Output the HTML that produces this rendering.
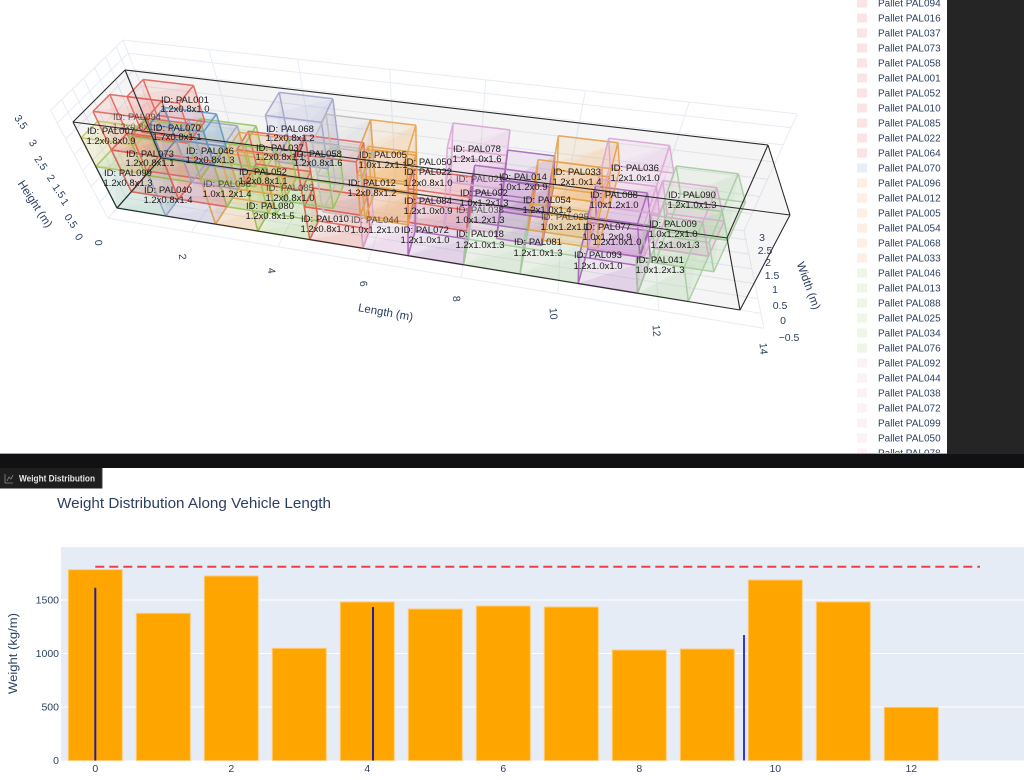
<!DOCTYPE html>
<html><head><meta charset="utf-8">
<style>
html,body{margin:0;padding:0;background:#fff;}
body{width:1024px;height:780px;overflow:hidden;position:relative;font-family:"Liberation Sans",Arial,sans-serif;}
svg{position:absolute;left:0;top:0;}
</style></head><body>
<svg width="1024" height="780" viewBox="0 0 1024 780" xmlns="http://www.w3.org/2000/svg" font-family="Liberation Sans, Arial, sans-serif">
<rect width="1024" height="780" fill="#fff"/>
<g id="grid" stroke="#e7ecf4" stroke-width="1" fill="none"></g>
<g id="cfill"></g>
<g id="fills"></g>
<g id="edges" fill="none" stroke-width="1.5"></g>
<g id="cont" fill="none" stroke="#2b2b2b" stroke-width="1.1"></g>

<!-- box labels -->
<g font-size="9.5" fill="#1a1a1a" text-anchor="middle">
<text x="185" y="103">ID: PAL001</text><text x="185" y="112">1.2x0.8x1.0</text>
<text x="137" y="120" fill-opacity="0.7">ID: PAL094</text><text x="137" y="130" fill-opacity="0.5">1.2x0.8x1.2</text>
<text x="111" y="134">ID: PAL007</text><text x="111" y="144">1.2x0.8x0.9</text>
<text x="177" y="131">ID: PAL070</text><text x="177" y="140">1.7x0.8x1.1</text>
<text x="210" y="154">ID: PAL046</text><text x="210" y="163">1.2x0.8x1.3</text>
<text x="150" y="157">ID: PAL073</text><text x="150" y="166">1.2x0.8x1.1</text>
<text x="128" y="176">ID: PAL099</text><text x="128" y="186">1.2x0.8x1.3</text>
<text x="168" y="193">ID: PAL040</text><text x="168" y="203">1.2x0.8x1.4</text>
<text x="227" y="187" fill-opacity="0.7">ID: PAL096</text><text x="227" y="197">1.0x1.2x1.4</text>
<text x="270" y="209">ID: PAL080</text><text x="270" y="219">1.2x0.8x1.5</text>
<text x="290" y="132">ID: PAL068</text><text x="290" y="141">1.2x0.8x1.2</text>
<text x="280" y="151">ID: PAL037</text><text x="280" y="160">1.2x0.8x1.1</text>
<text x="318" y="157">ID: PAL058</text><text x="318" y="166">1.2x0.8x1.6</text>
<text x="263" y="175">ID: PAL052</text><text x="263" y="184">1.2x0.8x1.1</text>
<text x="290" y="191" fill-opacity="0.7">ID: PAL085</text><text x="290" y="201">1.2x0.8x1.0</text>
<text x="325" y="222">ID: PAL010</text><text x="325" y="232">1.2x0.8x1.0</text>
<text x="375" y="223" fill-opacity="0.7">ID: PAL044</text><text x="375" y="233">1.0x1.2x1.0</text>
<text x="372" y="186">ID: PAL012</text><text x="372" y="196">1.2x0.8x1.2</text>
<text x="383" y="158">ID: PAL005</text><text x="383" y="168">1.0x1.2x1.1</text>
<text x="428" y="165">ID: PAL050</text><text x="428" y="175">ID: PAL022</text><text x="428" y="186">1.2x0.8x1.0</text>
<text x="477" y="152">ID: PAL078</text><text x="477" y="162">1.2x1.0x1.6</text>
<text x="480" y="182" fill-opacity="0.7">ID: PAL021</text>
<text x="484" y="196">ID: PAL092</text><text x="484" y="206">1.0x1.2x1.3</text>
<text x="523" y="180">ID: PAL014</text><text x="523" y="190">1.0x1.2x0.9</text>
<text x="428" y="204">ID: PAL084</text><text x="428" y="214">1.2x1.0x0.9</text>
<text x="425" y="233">ID: PAL072</text><text x="425" y="243">1.2x1.0x1.0</text>
<text x="480" y="237">ID: PAL018</text><text x="480" y="248">1.2x1.0x1.3</text>
<text x="538" y="245">ID: PAL081</text><text x="538" y="256">1.2x1.0x1.3</text>
<text x="480" y="213" fill-opacity="0.7">ID: PAL038</text><text x="480" y="223">1.0x1.2x1.3</text>
<text x="547" y="203">ID: PAL054</text><text x="547" y="213">1.2x1.0x1.4</text>
<text x="577" y="175">ID: PAL033</text><text x="577" y="185">1.2x1.0x1.4</text>
<text x="635" y="171">ID: PAL036</text><text x="635" y="181">1.2x1.0x1.0</text>
<text x="614" y="198">ID: PAL088</text><text x="614" y="208">1.0x1.2x1.0</text>
<text x="692" y="198">ID: PAL090</text><text x="692" y="208">1.2x1.0x1.3</text>
<text x="607" y="230">ID: PAL077</text><text x="607" y="240">1.0x1.2x0.9</text><text x="617" y="245">1.2x1.0x1.0</text>
<text x="673" y="227">ID: PAL009</text><text x="673" y="237">1.0x1.2x1.0</text><text x="675" y="248">1.2x1.0x1.3</text>
<text x="598" y="258">ID: PAL093</text><text x="598" y="269">1.2x1.0x1.0</text>
<text x="660" y="263">ID: PAL041</text><text x="660" y="273">1.0x1.2x1.3</text>
<text x="565" y="220" fill-opacity="0.7">ID: PAL025</text><text x="565" y="230">1.0x1.2x1.1</text>
</g>

<!-- 3D axis labels -->
<g font-size="10.5" fill="#2a3f5f" text-anchor="middle">
<text transform="translate(18,124) rotate(55)">3.5</text>
<text transform="translate(30,145) rotate(55)">3</text>
<text transform="translate(38,165) rotate(55)">2.5</text>
<text transform="translate(48,180) rotate(55)">2</text>
<text transform="translate(56,193) rotate(55)">1.5</text>
<text transform="translate(62,204) rotate(55)">1</text>
<text transform="translate(68,223) rotate(55)">0.5</text>
<text transform="translate(76,239) rotate(55)">0</text>
<text transform="translate(32,206) rotate(57)" font-size="11.5">Height (m)</text>
<text transform="translate(95,243) rotate(85)">0</text>
<text transform="translate(179,257) rotate(85)">2</text>
<text transform="translate(268,271) rotate(85)">4</text>
<text transform="translate(360,284) rotate(85)">6</text>
<text transform="translate(453,299) rotate(85)">8</text>
<text transform="translate(550,314) rotate(85)">10</text>
<text transform="translate(653,331) rotate(85)">12</text>
<text transform="translate(760,349) rotate(85)">14</text>
<text transform="translate(385,316) rotate(10)" font-size="11.5">Length (m)</text>
<text x="762" y="241">3</text>
<text x="765" y="254">2.5</text>
<text x="768" y="266">2</text>
<text x="772" y="279">1.5</text>
<text x="775" y="293">1</text>
<text x="780" y="309">0.5</text>
<text x="783" y="324">0</text>
<text x="789" y="341">−0.5</text>
<text transform="translate(805,287) rotate(70)" font-size="11.5">Width (m)</text>
</g>

<!-- legend -->
<g font-size="10" fill="#2a3f5f">
<rect x="857" y="-1.5" width="10" height="9" fill="#fde3e3"/><text x="878" y="6.5">Pallet PAL094</text>
<rect x="857" y="13.5" width="10" height="9" fill="#fde3e3"/><text x="878" y="21.5">Pallet PAL016</text>
<rect x="857" y="28.5" width="10" height="9" fill="#fde3e3"/><text x="878" y="36.5">Pallet PAL037</text>
<rect x="857" y="43.5" width="10" height="9" fill="#fde3e3"/><text x="878" y="51.5">Pallet PAL073</text>
<rect x="857" y="58.5" width="10" height="9" fill="#fde3e3"/><text x="878" y="66.5">Pallet PAL058</text>
<rect x="857" y="73.5" width="10" height="9" fill="#fde3e3"/><text x="878" y="81.5">Pallet PAL001</text>
<rect x="857" y="88.5" width="10" height="9" fill="#fde3e3"/><text x="878" y="96.5">Pallet PAL052</text>
<rect x="857" y="103.5" width="10" height="9" fill="#fde3e3"/><text x="878" y="111.5">Pallet PAL010</text>
<rect x="857" y="118.5" width="10" height="9" fill="#fde3e3"/><text x="878" y="126.5">Pallet PAL085</text>
<rect x="857" y="133.5" width="10" height="9" fill="#fde3e3"/><text x="878" y="141.5">Pallet PAL022</text>
<rect x="857" y="148.5" width="10" height="9" fill="#fde3e3"/><text x="878" y="156.5">Pallet PAL064</text>
<rect x="857" y="163.5" width="10" height="9" fill="#e8eef7"/><text x="878" y="171.5">Pallet PAL070</text>
<rect x="857" y="178.5" width="10" height="9" fill="#feefe2"/><text x="878" y="186.5">Pallet PAL096</text>
<rect x="857" y="193.5" width="10" height="9" fill="#feefe2"/><text x="878" y="201.5">Pallet PAL012</text>
<rect x="857" y="208.5" width="10" height="9" fill="#feefe2"/><text x="878" y="216.5">Pallet PAL005</text>
<rect x="857" y="223.5" width="10" height="9" fill="#feefe2"/><text x="878" y="231.5">Pallet PAL054</text>
<rect x="857" y="238.5" width="10" height="9" fill="#feefe2"/><text x="878" y="246.5">Pallet PAL068</text>
<rect x="857" y="253.5" width="10" height="9" fill="#feefe2"/><text x="878" y="261.5">Pallet PAL033</text>
<rect x="857" y="268.5" width="10" height="9" fill="#eff6e7"/><text x="878" y="276.5">Pallet PAL046</text>
<rect x="857" y="283.5" width="10" height="9" fill="#eff6e7"/><text x="878" y="291.5">Pallet PAL013</text>
<rect x="857" y="298.5" width="10" height="9" fill="#eff6e7"/><text x="878" y="306.5">Pallet PAL088</text>
<rect x="857" y="313.5" width="10" height="9" fill="#eff6e7"/><text x="878" y="321.5">Pallet PAL025</text>
<rect x="857" y="328.5" width="10" height="9" fill="#eff6e7"/><text x="878" y="336.5">Pallet PAL034</text>
<rect x="857" y="343.5" width="10" height="9" fill="#eff6e7"/><text x="878" y="351.5">Pallet PAL076</text>
<rect x="857" y="358.5" width="10" height="9" fill="#fdf1f6"/><text x="878" y="366.5">Pallet PAL092</text>
<rect x="857" y="373.5" width="10" height="9" fill="#fdf1f6"/><text x="878" y="381.5">Pallet PAL044</text>
<rect x="857" y="388.5" width="10" height="9" fill="#fdf1f6"/><text x="878" y="396.5">Pallet PAL038</text>
<rect x="857" y="403.5" width="10" height="9" fill="#fdf1f6"/><text x="878" y="411.5">Pallet PAL072</text>
<rect x="857" y="418.5" width="10" height="9" fill="#fdf1f6"/><text x="878" y="426.5">Pallet PAL099</text>
<rect x="857" y="433.5" width="10" height="9" fill="#fdf1f6"/><text x="878" y="441.5">Pallet PAL050</text>
<rect x="857" y="448.5" width="10" height="9" fill="#fdf1f6"/><text x="878" y="456.5">Pallet PAL078</text>
</g>

<!-- dark panels -->
<rect x="947" y="0" width="77" height="454" fill="#252526"/>
<rect x="0" y="453" width="947" height="1" fill="#a8a8a8"/>
<rect x="0" y="454" width="1024" height="14" fill="#111113"/>
<rect x="0" y="468" width="102" height="20.5" fill="#1e1e1f"/>
<rect x="101.5" y="468" width="1" height="20.5" fill="#3c3c3c"/>
<g fill="none" stroke="#8a8a8a" stroke-width="0.8">
<path d="M5,474 L5,483 L13,483"/><path d="M7,481 L9,477 L11,479 L13,475"/>
</g>
<text x="19" y="481.5" font-size="9" font-weight="bold" fill="#e6e6e6" textLength="76" lengthAdjust="spacingAndGlyphs">Weight Distribution</text>

<!-- bottom chart -->
<text x="57" y="508" font-size="15" fill="#2a3f5f" textLength="274" lengthAdjust="spacingAndGlyphs">Weight Distribution Along Vehicle Length</text>
<rect x="61" y="547" width="963" height="213.5" fill="#e5ecf6"/>
<g stroke="#ffffff" stroke-width="1">
<line x1="61" y1="707" x2="1024" y2="707"/>
<line x1="61" y1="653.5" x2="1024" y2="653.5"/>
<line x1="61" y1="600" x2="1024" y2="600"/>
</g>
<g fill="#ffa500" stroke="#ffcb7a" stroke-width="1">
<rect x="68.3" y="569.7" width="54" height="190.8"/>
<rect x="136.3" y="613.3" width="54" height="147.2"/>
<rect x="204.3" y="576" width="54" height="184.5"/>
<rect x="272.3" y="648.3" width="54" height="112.2"/>
<rect x="340.3" y="602" width="54" height="158.5"/>
<rect x="408.3" y="609" width="54" height="151.5"/>
<rect x="476.3" y="606" width="54" height="154.5"/>
<rect x="544.3" y="607" width="54" height="153.5"/>
<rect x="612.3" y="650" width="54" height="110.5"/>
<rect x="680.3" y="649" width="54" height="111.5"/>
<rect x="748.3" y="580" width="54" height="180.5"/>
<rect x="816.3" y="602" width="54" height="158.5"/>
<rect x="884.3" y="707.3" width="54" height="53.2"/>
</g>
<line x1="95.3" y1="587.7" x2="95.3" y2="760.5" stroke="#22229a" stroke-width="2"/>
<line x1="373" y1="607" x2="373" y2="760.5" stroke="#22229a" stroke-width="2"/>
<line x1="744" y1="635" x2="744" y2="760.5" stroke="#3333ee" stroke-width="2"/>
<line x1="95.3" y1="566.7" x2="980" y2="566.7" stroke="#ef3f4c" stroke-width="2" stroke-dasharray="9,5"/>
<g font-size="10.5" fill="#2a3f5f" text-anchor="end">
<text x="59" y="764">0</text>
<text x="59" y="710.5">500</text>
<text x="59" y="657">1000</text>
<text x="59" y="603.5">1500</text>
</g>
<g font-size="10.5" fill="#2a3f5f" text-anchor="middle">
<text x="95.3" y="772">0</text>
<text x="231.3" y="772">2</text>
<text x="367.3" y="772">4</text>
<text x="503.3" y="772">6</text>
<text x="639.3" y="772">8</text>
<text x="775.3" y="772">10</text>
<text x="911.3" y="772">12</text>
</g>
<text transform="translate(17,653.5) rotate(-90)" font-size="11.5" fill="#2a3f5f" text-anchor="middle" textLength="81" lengthAdjust="spacingAndGlyphs">Weight (kg/m)</text>
</svg>
<script>
(function(){
var L=13.6,W=2.45,H=2.7,c=-0.00905;
var A000=[117,208],A100=[740,310],A010=[161,158],A110=[727,238],A001=[73,122],A101=[790,215],A011=[125,70],A111=[768,145];
function s(x){return x*(1+L*c)/(L*(1+c*x));}
function lp(a,b,t){return [a[0]+(b[0]-a[0])*t,a[1]+(b[1]-a[1])*t];}
function P(x,y,z){var u=s(x),v=y/W,w=z/H;
 if(v>1)v=1+(v-1)*0.6;
 var c00=lp(A000,A100,u),c10=lp(A010,A110,u),c01=lp(A001,A101,u),c11=lp(A011,A111,u);
 return lp(lp(c00,c10,v),lp(c01,c11,v),w);}
var NS='http://www.w3.org/2000/svg';
function el(p,tag,at){var e=document.createElementNS(NS,tag);for(var k in at)e.setAttribute(k,at[k]);p.appendChild(e);return e;}
function f(q){return q[0].toFixed(1)+','+q[1].toFixed(1);}
var grid=document.getElementById('grid');
var gd='';
function gl(a,b){gd+='M'+f(a)+'L'+f(b);}
var x,y,z;
for(x=0;x<=14.01;x+=2) gl(P(x,-0.5,0),P(x,3,0));
for(y=-0.5;y<=3.01;y+=0.5) gl(P(0,y,0),P(14,y,0));
for(y=-0.5;y<=3.01;y+=0.5) gl(P(0,y,0),P(0,y,3.4));
for(z=0;z<=3.41;z+=0.5) gl(P(0,-0.5,z),P(0,3,z));
gl(P(0,-0.5,3.4),P(0,3,3.4));
for(x=0;x<=14.01;x+=2) gl(P(x,3,0),P(x,3,3.4));
for(z=0;z<=3.41;z+=0.5) gl(P(0,3,z),P(14,3,z));
gl(P(0,3,3.4),P(14,3,3.4));
el(grid,'path',{d:gd});
var COL={R:['#e0625a','#f08a84'],O:['#c6c55e','#d6d676'],T:['#6db3a2','#86c9b8'],V:['#a2a2c8','#a8a8d4'],B:['#5f93c4','#8bb5e0'],Or:['#e6a14a','#f5b870'],G:['#93c35a','#a6d480'],P:['#a466b6','#bb88d0'],K:['#d8a6d2','#e6b0de'],Gy:['#bdbdbd','#c8c8c8'],LG:['#a6cb9e','#b0d6a8']};
var boxes=[
[0,0,0,1.2,0.8,1.3,'T'],[1.2,0,0,1.2,0.8,1.4,'V'],[2.4,0,0,1.0,1.2,1.4,'Or'],[3.4,0,0,1.2,0.8,1.5,'G'],[4.6,0,0,1.2,0.8,1.0,'R'],[5.8,0,0,1.0,1.2,1.0,'K'],[6.8,0,0,1.2,1.0,1.0,'P'],[8.0,0,0,1.2,1.0,1.3,'LG'],[9.2,0,0,1.2,1.0,1.3,'LG'],[10.4,0,0,1.2,1.0,1.0,'P'],[11.6,0,0,1.0,1.2,1.3,'LG'],
[0,0,1.3,1.2,0.8,0.9,'O'],[1.2,0,1.4,1.2,0.8,1.1,'R'],[2.4,0,1.4,1.2,0.8,1.3,'G'],[3.4,0,1.5,1.2,0.8,1.0,'R'],[4.6,0,1.0,1.2,0.8,1.6,'R'],[5.8,0,1.0,1.0,1.2,1.2,'Or'],[6.8,0,1.0,1.2,0.8,1.0,'R'],[8.0,0,1.3,1.2,1.0,0.9,'P'],[9.2,0,1.3,1.2,1.0,1.3,'Or'],[10.4,0,1.0,1.0,1.2,0.9,'P'],[11.6,0,1.3,1.0,1.2,1.0,'K'],
[0,0.8,0,1.2,0.8,1.3,'R'],[0,1.6,0,1.2,0.8,1.2,'G'],[1.2,0.8,0,1.2,0.8,1.3,'R'],[1.2,1.6,0,1.2,0.8,1.4,'V'],[2.4,0.8,0,1.2,0.8,1.4,'G'],[2.4,1.6,0,1.2,0.8,1.2,'Or'],[3.6,1.4,0,1.2,1.0,1.2,'G'],[4.6,1.2,0,1.0,1.2,1.1,'Gy'],[5.6,1.2,0,1.0,1.2,1.2,'Or'],[7.4,1.4,0,1.2,1.0,1.3,'K'],[8.6,1.2,0,1.0,1.2,0.8,'P'],[9.6,1.4,0,1.2,1.0,1.3,'Or'],[10.6,1.4,0,1.2,1.0,1.2,'K'],[12.0,1.2,0,1.2,1.0,0.9,'LG'],
[0.4,1.6,1.4,1.2,0.8,1.1,'R'],[0,0.8,1.3,1.2,0.8,1.2,'R'],[1.2,0.8,1.3,1.2,0.8,1.0,'B'],[3.6,1.4,1.2,1.2,1.0,1.4,'V'],[4.6,1.2,1.1,1.0,1.2,1.0,'Gy'],[5.6,1.2,1.2,1.0,1.2,0.9,'Or'],[7.4,1.4,1.3,1.2,1.0,1.0,'K'],[8.6,1.2,0.8,1.0,1.2,0.9,'P'],[9.6,1.4,1.3,1.2,1.0,1.0,'Or'],[10.6,1.4,1.2,1.2,1.0,1.2,'K'],[12.0,1.2,0.9,1.2,1.0,1.1,'LG']
];
var FACES=[[[0,0,0],[0,1,0],[0,1,1],[0,0,1]],[[1,0,0],[1,1,0],[1,1,1],[1,0,1]],[[0,0,0],[1,0,0],[1,0,1],[0,0,1]],[[0,1,0],[1,1,0],[1,1,1],[0,1,1]],[[0,0,0],[1,0,0],[1,1,0],[0,1,0]],[[0,0,1],[1,0,1],[1,1,1],[0,1,1]]];
var EDG=[];
[0,1].forEach(function(a){[0,1].forEach(function(b){EDG.push([[0,a,b],[1,a,b]]);EDG.push([[a,0,b],[a,1,b]]);EDG.push([[a,b,0],[a,b,1]]);});});
var fills=document.getElementById('fills'),edges=document.getElementById('edges');
function drawBox(x0,y0,z0,dx,dy,dz,stroke,fill,fo,fo2,g1,g2,so){
 function p(i,j,l){return P(x0+i*dx,y0+j*dy,z0+l*dz);}
 FACES.forEach(function(F){var pts=F.map(function(q){return p(q[0],q[1],q[2]);});
  el(g1,'polygon',{points:pts.map(f).join(' '),fill:fill,'fill-opacity':fo});
  if(fo2>0)el(g1,'polygon',{points:[pts[0],pts[1],pts[2]].map(f).join(' '),fill:fill,'fill-opacity':fo2});});
 var d='';EDG.forEach(function(e){d+='M'+f(p(e[0][0],e[0][1],e[0][2]))+'L'+f(p(e[1][0],e[1][1],e[1][2]));});
 el(g2,'path',{d:d,stroke:stroke,'stroke-opacity':so});
}
drawBox(0,0,0,L,W,H,'#2b2b2b','#7a7a7a',0.04,0,document.getElementById('cfill'),document.getElementById('cont'),1);
boxes.forEach(function(b){var col=COL[b[6]];drawBox(b[0],b[1],b[2],b[3],b[4],b[5],col[0],col[1],0.08,0.1,fills,edges,0.9);});
})();
</script>
</body></html>
